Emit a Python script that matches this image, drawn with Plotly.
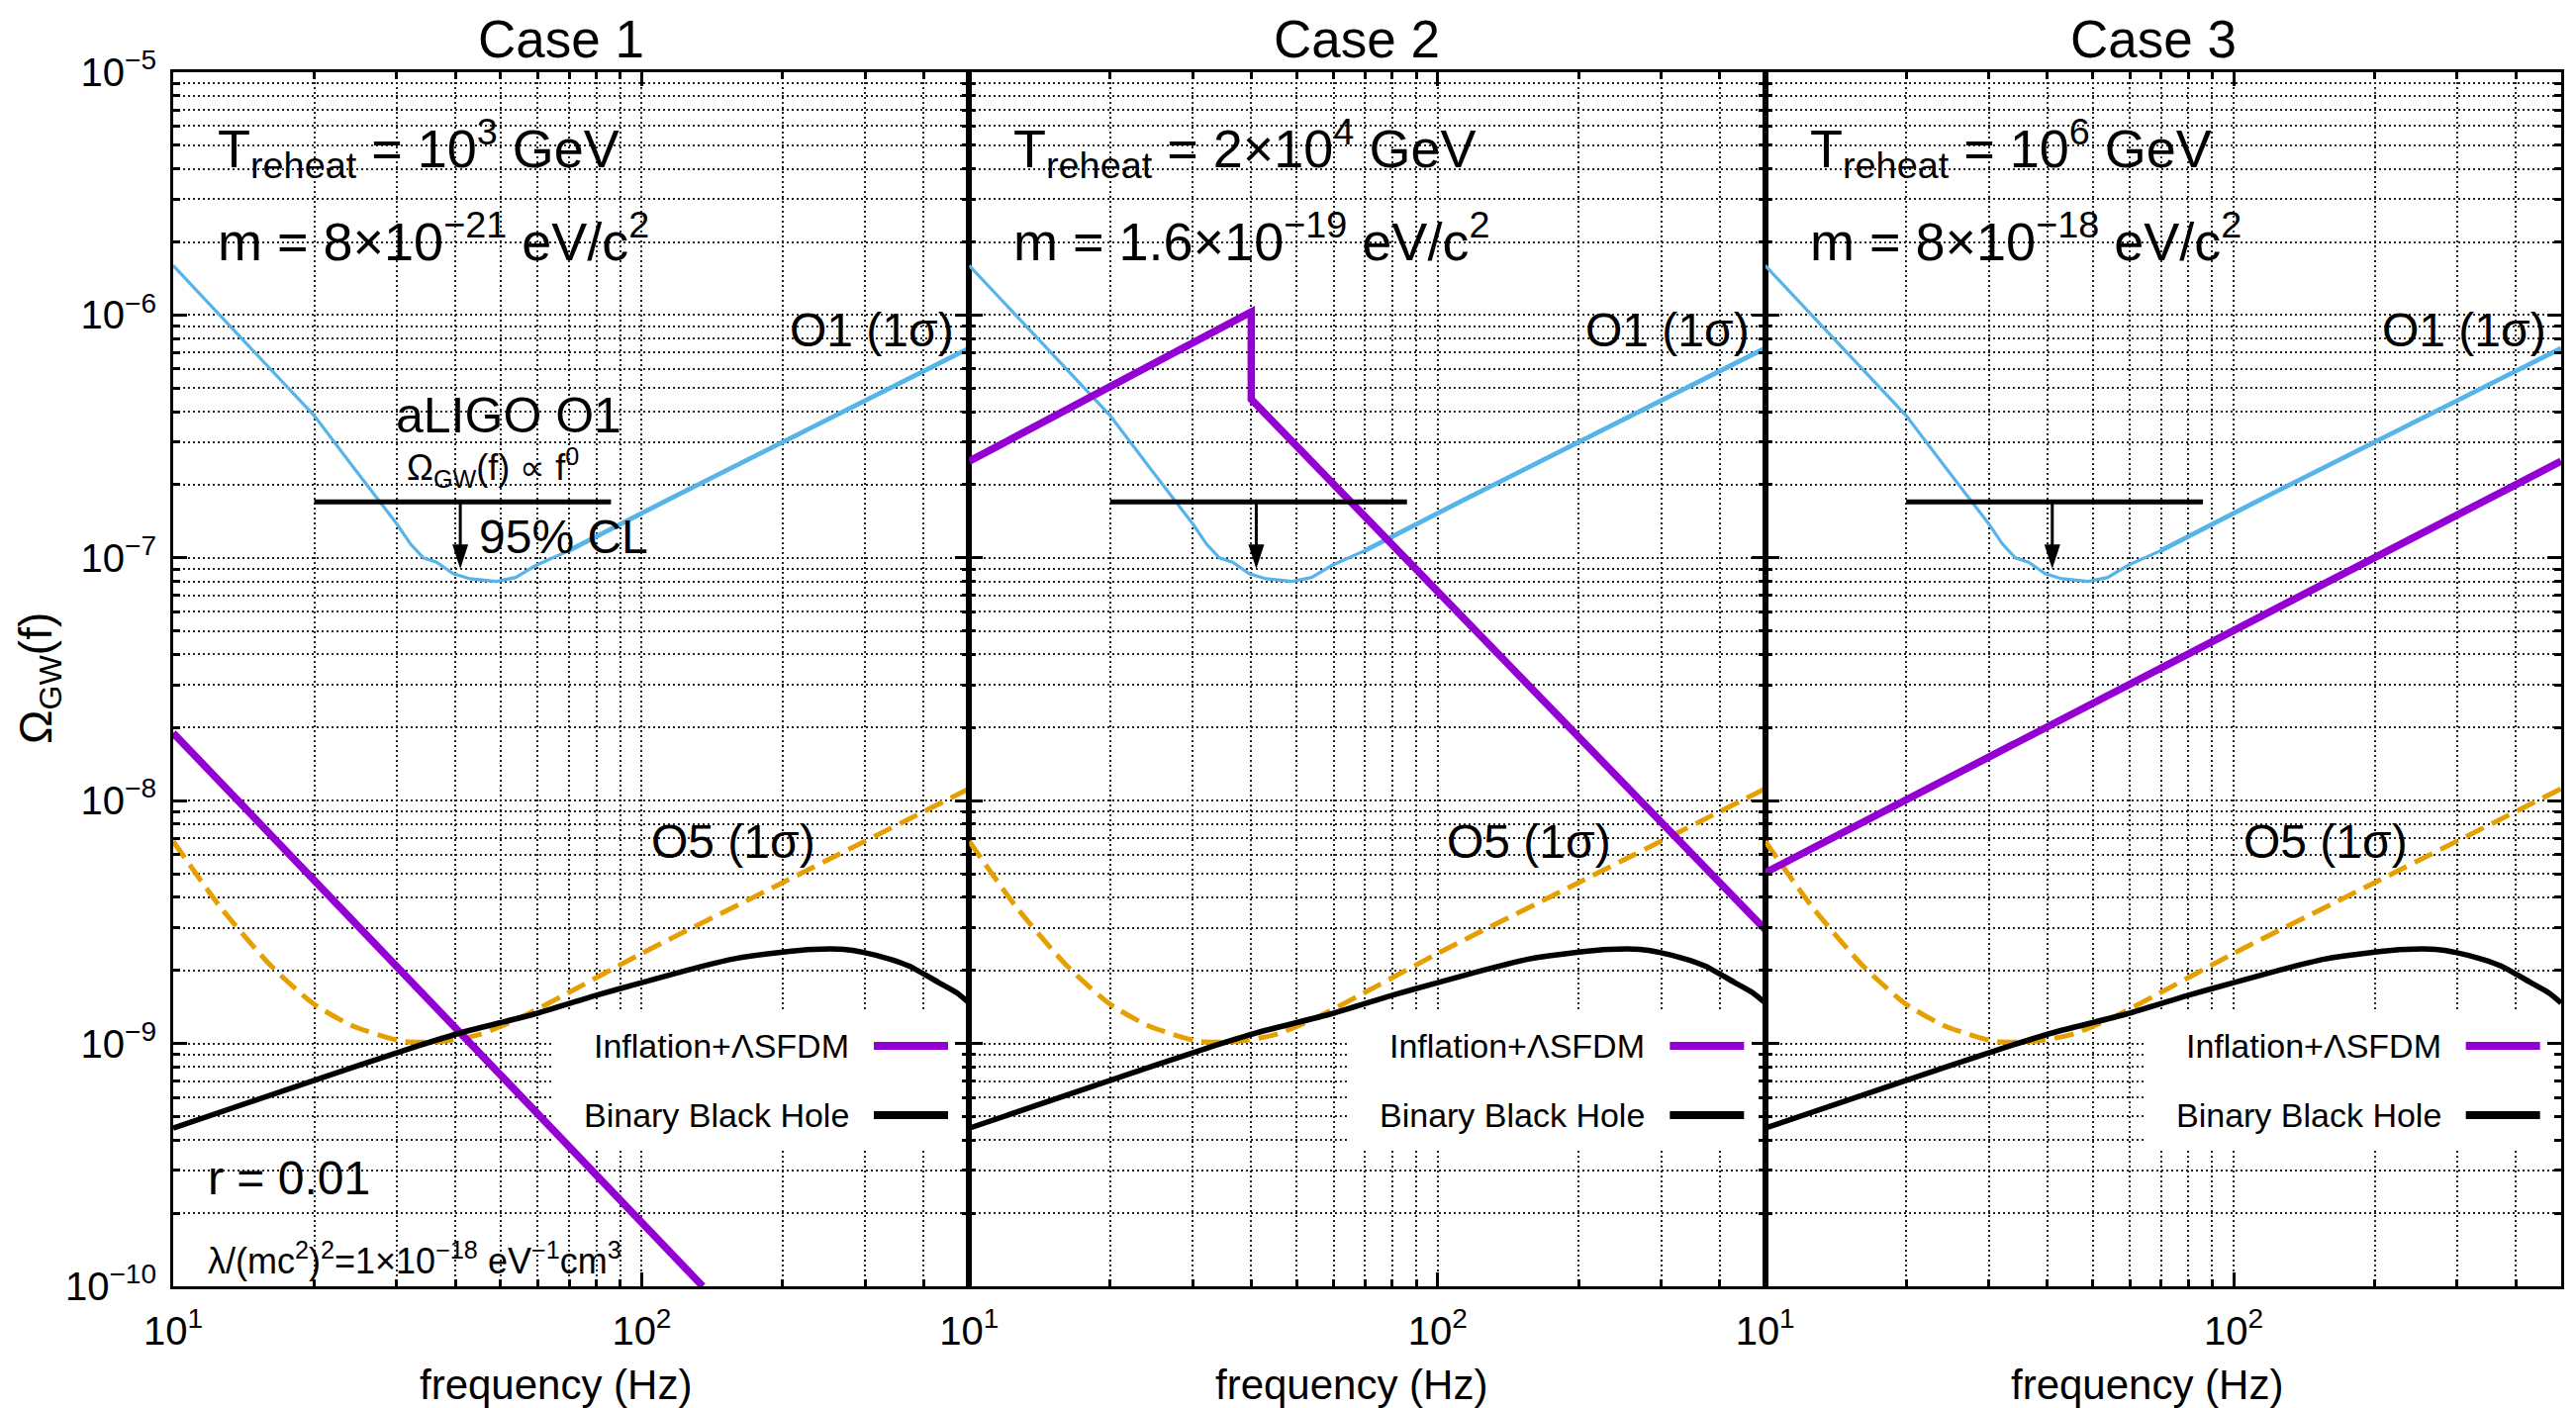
import numpy as np
import plotly.graph_objects as go
from plotly.subplots import make_subplots

# ---------------- data ----------------
# aLIGO O1 (1 sigma) sensitivity curve, shared by all panels:
# measured part and power-law continuation
o1_freq = [10, 20, 24.2, 27.3, 30.1, 32.1, 34.2, 36.5, 39.6, 43.0, 48.9, 53.8, 59.4, 69.8]
o1_omega = [1.6e-6, 3.85e-7, 2.37e-7, 1.76e-7, 1.37e-7, 1.14e-7, 1.0e-7, 9.6e-8, 8.6e-8,
            8.2e-8, 8.0e-8, 8.3e-8, 9.3e-8, 1.07e-7]
o1_tail_freq = [69.8, 113.5, 500]
o1_tail_omega = [1.07e-7, 1.73e-7, 7.3e-7]

# O5 (1 sigma) projected sensitivity
o5_freq = [10, 12.6, 16.2, 20, 24.2, 31, 37.3, 45.2, 55.7, 69.4, 100, 200, 500]
o5_omega = [6.8e-9, 3.65e-9, 2.08e-9, 1.45e-9, 1.18e-9, 1.02e-9, 1.02e-9, 1.09e-9,
            1.29e-9, 1.61e-9, 2.35e-9, 4.6e-9, 1.12e-8]

# Binary black hole background
bbh_freq = [10, 20, 31.8, 42, 58.9, 80, 100, 126, 155, 200, 233, 270, 298, 340, 373, 429, 470, 500]
bbh_omega = [4.48e-10, 7.05e-10, 9.5e-10, 1.12e-9, 1.32e-9, 1.58e-9, 1.78e-9, 2.01e-9, 2.22e-9,
             2.38e-9, 2.44e-9, 2.44e-9, 2.37e-9, 2.22e-9, 2.08e-9, 1.79e-9, 1.62e-9, 1.47e-9]

# Inflation + Lambda-SFDM spectra for the three cases
sfdm_freq = {1: [10, 135], 2: [10, 40, 40, 500], 3: [10, 500]}
sfdm_omega = {1: [1.9e-8, 1.0e-10], 2: [2.5e-7, 1.03e-6, 4.5e-7, 2.95e-9], 3: [5.05e-9, 2.5e-7]}

# O1 95% CL upper limit for a flat spectrum
cl_freq = [20, 86]
cl_level = 1.7e-7
cl_arrow_freq = 41
cl_arrow_tip = 9.0e-8

# white box behind the key (frequency span, Omega span)
key_box_freq = [64.9, 500]
key_box_omega = [3.65e-10, 1.38e-9]

case_titles = ["Case 1", "Case 2", "Case 3"]
treheat_text = ["T<sub>reheat</sub> = 10<sup>3</sup> GeV",
                "T<sub>reheat</sub> = 2×10<sup>4</sup> GeV",
                "T<sub>reheat</sub> = 10<sup>6</sup> GeV"]
mass_text = ["m = 8×10<sup>−21</sup> eV/c<sup>2</sup>",
             "m = 1.6×10<sup>−19</sup> eV/c<sup>2</sup>",
             "m = 8×10<sup>−18</sup> eV/c<sup>2</sup>"]

x_major = [10, 100]
x_major_text = ["10<sup>1</sup>", "10<sup>2</sup>"]
x_minor = [20, 30, 40, 50, 60, 70, 80, 90, 200, 300, 400]
y_exponents = [-10, -9, -8, -7, -6, -5]
y_major = [10.0 ** e for e in y_exponents]
y_major_text = ["10<sup>−%d</sup>" % (-e) for e in y_exponents]
y_minor = [k * 10.0 ** e for e in y_exponents[:-1] for k in range(2, 10)]

# ---------------- styling ----------------
W, H = 2603, 1423
PL, PR, PT, PB = 175, 2588, 73, 1300
PANEL_W = (PR - PL) / 3
FONT = "Liberation Sans, Arial, Helvetica, sans-serif"

PURPLE = "#9400D3"
BLUE = "#56B4E9"
ORANGE = "#E69F00"

fig = make_subplots(rows=1, cols=3, shared_yaxes=True, horizontal_spacing=0)

for i in range(1, 4):
    bx0, bx1 = key_box_freq
    by0, by1 = key_box_omega
    fig.add_trace(go.Scatter(x=[bx0, bx1, bx1, bx0, bx0], y=[by0, by0, by1, by1, by0],
                             mode="lines", fill="toself", fillcolor="white",
                             line=dict(width=0, color="white"), hoverinfo="skip",
                             showlegend=False), row=1, col=i)
    fig.add_trace(go.Scatter(x=o1_freq, y=o1_omega, mode="lines",
                             line=dict(color=BLUE, width=3.2), showlegend=False), row=1, col=i)
    fig.add_trace(go.Scatter(x=o1_tail_freq, y=o1_tail_omega, mode="lines",
                             line=dict(color=BLUE, width=4.8), showlegend=False), row=1, col=i)
    fig.add_trace(go.Scatter(x=o5_freq, y=o5_omega, mode="lines",
                             line=dict(color=ORANGE, width=5, dash="20px,9px", shape="spline", smoothing=0.6),
                             showlegend=False), row=1, col=i)
    fig.add_trace(go.Scatter(x=sfdm_freq[i], y=sfdm_omega[i], mode="lines",
                             line=dict(color=PURPLE, width=7.5), showlegend=False), row=1, col=i)
    fig.add_trace(go.Scatter(x=bbh_freq, y=bbh_omega, mode="lines",
                             line=dict(color="black", width=5.5, shape="spline", smoothing=0.6),
                             showlegend=False), row=1, col=i)
    # upper-limit bar with arrow
    fig.add_trace(go.Scatter(x=cl_freq, y=[cl_level, cl_level], mode="lines",
                             line=dict(color="black", width=5), showlegend=False), row=1, col=i)
    fig.add_trace(go.Scatter(x=[cl_arrow_freq, cl_arrow_freq], y=[cl_level, cl_arrow_tip * 1.15], mode="lines",
                             line=dict(color="black", width=3), showlegend=False), row=1, col=i)
    fig.add_trace(go.Scatter(x=[cl_arrow_freq], y=[cl_arrow_tip], mode="markers",
                             marker=dict(symbol="arrow", angle=180, size=26, color="black",
                                         line=dict(width=0)),
                             showlegend=False), row=1, col=i)

grid_style = dict(showgrid=True, gridcolor="#222222", gridwidth=1.6, griddash="2px,3px")
axis_common = dict(showline=True, linecolor="black", linewidth=3, mirror="ticks",
                   ticks="inside", ticklen=14, tickwidth=2.5, tickcolor="black",
                   zeroline=False, tickfont=dict(size=40, color="black", family=FONT),
                   **grid_style)

for i in range(1, 4):
    fig.update_xaxes(type="log", range=[1, np.log10(500)],
                     tickmode="array", tickvals=x_major, ticktext=x_major_text,
                     minor=dict(tickmode="array", tickvals=x_minor, ticks="inside", ticklen=7,
                                tickwidth=2.5, tickcolor="black", **grid_style),
                     ticklabelstandoff=8,
                     row=1, col=i, **axis_common)
    fig.update_yaxes(type="log", range=[-10, -5],
                     tickmode="array", tickvals=y_major, ticktext=y_major_text,
                     minor=dict(tickmode="array", tickvals=y_minor, ticks="inside", ticklen=7,
                                tickwidth=2.5, tickcolor="black", **grid_style),
                     ticklabelstandoff=6,
                     row=1, col=i, **axis_common)


def px_x(xpx):
    return (xpx - PL) / (PR - PL)


def px_y(ypx):
    return (PB - ypx) / (PB - PT)


def label(text, xpx, ypx, size, xanchor="center", yanchor="middle", **kw):
    fig.add_annotation(text=text, x=px_x(xpx), y=px_y(ypx), xref="paper", yref="paper",
                       showarrow=False, xanchor=xanchor, yanchor=yanchor,
                       font=dict(size=size, color="black", family=FONT), **kw)


for p in range(3):
    L = PL + p * PANEL_W

    label(case_titles[p], L + 392, 40, 53)
    label(treheat_text[p], L + 43, 150, 54, xanchor="left")
    label(mass_text[p], L + 43, 240, 54, xanchor="left")
    label("O1 (1σ)", L + 791, 333, 48, xanchor="right")
    label("O5 (1σ)", L + 566, 850, 48)
    label("frequency (Hz)", L + 386, 1399, 42)

    # key entries
    label("Inflation+ΛSFDM", L + 685, 1057, 34, xanchor="right")
    label("Binary Black Hole", L + 685, 1127, 34, xanchor="right")
    for ypx, col in [(1057, PURPLE), (1127, "black")]:
        fig.add_shape(type="line", xref="paper", yref="paper",
                      x0=px_x(L + 708), x1=px_x(L + 783), y0=px_y(ypx), y1=px_y(ypx),
                      line=dict(color=col, width=8))

# panel 1 extra labels
label("aLIGO O1", 514, 420, 50)
label("Ω<sub>GW</sub>(f) ∝ f<sup>0</sup>", 498, 473, 36)
label("95% CL", 482, 542, 48, xanchor="left")
label("r = 0.01", 208, 1190, 48, xanchor="left")
label("λ/(mc<sup>2</sup>)<sup>2</sup>=1×10<sup>−18</sup> eV<sup>−1</sup>cm<sup>3</sup>", 208, 1272, 36, xanchor="left")
label("Ω<sub>GW</sub>(f)", 39, 686, 46, textangle=-90)

fig.update_layout(width=W, height=H,
                  margin=dict(l=PL, r=W - PR, t=PT, b=H - PB),
                  paper_bgcolor="white", plot_bgcolor="white",
                  font=dict(family=FONT, color="black"),
                  showlegend=False)

fig.write_html("out.html")
